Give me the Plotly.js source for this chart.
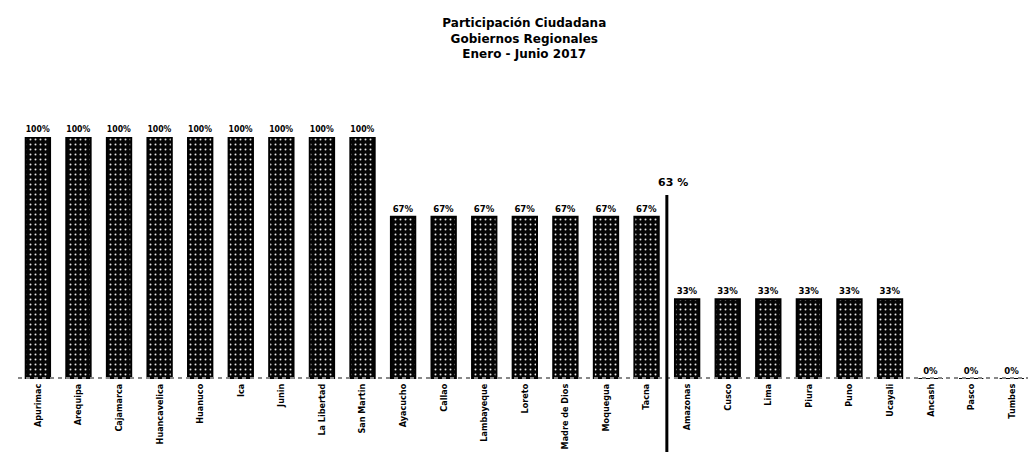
<!DOCTYPE html>
<html>
<head>
<meta charset="utf-8">
<script src="https://cdn.plot.ly/plotly-3.0.1.min.js"></script>
<style>html,body{margin:0;padding:0;background:#fff;}#chart{width:1028px;height:452px;}</style>
</head>
<body>
<div id="chart"></div>
<script>
const regions = ["Apurimac","Arequipa","Cajamarca","Huancavelica","Huanuco","Ica","Junin","La Libertad","San Martin",
  "Ayacucho","Callao","Lambayeque","Loreto","Madre de Dios","Moquegua","Tacna",
  "Amazonas","Cusco","Lima","Piura","Puno","Ucayali","Ancash","Pasco","Tumbes"];
const participation = [100,100,100,100,100,100,100,100,100,67,67,67,67,67,67,67,33,33,33,33,33,33,0,0,0];
const valueLabels = participation.map(v => v + "%");
const averageValue = 63;
const averageLabel = "63 %";
const titleLines = ["Participación Ciudadana","Gobiernos Regionales","Enero - Junio 2017"];

const trace = {
  type: "bar",
  x: regions,
  y: participation,
  text: valueLabels,
  textposition: "outside",
  cliponaxis: false,
  textfont: {family: "DejaVu Sans Condensed, DejaVu Sans", size: 9.5, color: "#000", weight: "bold"},
  marker: {
    color: "#000",
    line: {color: "#000", width: 2},
    pattern: {shape: ".", fillmode: "replace", bgcolor: "#050505", fgcolor: "#e8e8e8", size: 5, solidity: 0.12}
  },
  hoverinfo: "skip"
};

// position of the average marker: between last bar above the average and first bar below it
const splitIdx = participation.findIndex(v => v < averageValue) - 0.5;

const layout = {
  width: 1028, height: 452,
  margin: {l: 18, r: 0, t: 137, b: 73},
  paper_bgcolor: "#fff", plot_bgcolor: "#fff",
  showlegend: false,
  bargap: 0.4,
  title: {
    text: "<b>" + titleLines.join("<br>") + "</b>",
    x: 0.51, xanchor: "center", y: 0.94, yanchor: "middle",
    font: {family: "DejaVu Sans", size: 12, color: "#000"}
  },
  xaxis: {
    type: "category",
    range: [-0.49, 24.40],
    tickangle: -90,
    ticks: "",
    ticklabelstandoff: 2,
    showline: false,
    showgrid: false,
    zeroline: false,
    tickfont: {family: "DejaVu Sans Condensed, DejaVu Sans", size: 9, color: "#000", weight: "bold"},
    automargin: false
  },
  yaxis: {
    range: [0, 100],
    visible: false,
    showgrid: false,
    zeroline: false,
    fixedrange: true
  },
  shapes: [
    {type: "line", xref: "paper", yref: "y", x0: 0, x1: 1, y0: 0, y1: 0,
     line: {color: "#888", width: 4, dash: "dot"}},
    {type: "line", xref: "x", yref: "paper", x0: splitIdx, x1: splitIdx, y0: -0.31, y1: 0.76,
     line: {color: "#000", width: 3}}
  ],
  annotations: [
    {xref: "x", yref: "paper", x: splitIdx + 0.15, y: 0.81, text: "<b>" + averageLabel + "</b>",
     showarrow: false, xanchor: "center", yanchor: "middle",
     font: {family: "DejaVu Sans", size: 11, color: "#000"}}
  ]
};

Plotly.newPlot("chart", [trace], layout, {displayModeBar: false, staticPlot: true});
</script>
</body>
</html>
